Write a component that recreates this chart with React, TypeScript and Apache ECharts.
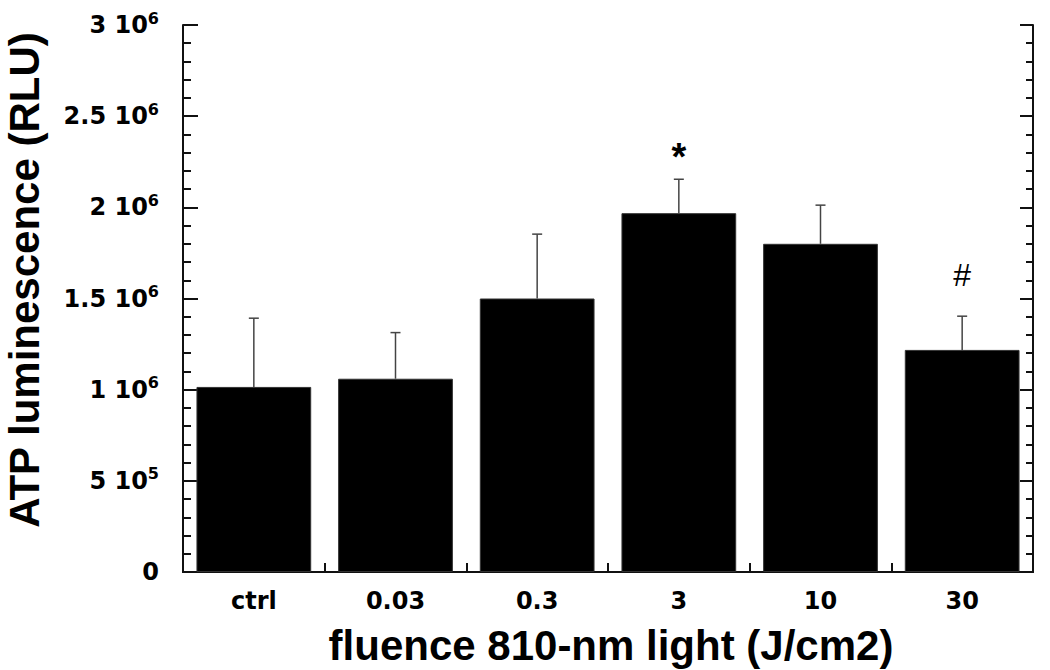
import React, { useEffect, useRef } from "react";
import * as echarts from "echarts";

const categories = ["ctrl", "0.03", "0.3", "3", "10", "30"];
const means = [1015000, 1060000, 1500000, 1968000, 1800000, 1218000];
const errors = [377000, 253000, 353000, 186000, 212000, 185000];
const annotationCats = [3, 5];
const annotationValues = [2276000, 1630000];
const annotationTexts = ["*", "#"];
const yTicks = { min: 0, max: 3000000, interval: 500000 };

const TICK_FONT = "DejaVu Sans";
const TITLE_FONT = "Liberation Sans";

function sciLabel(v: number): string {
  if (v === 0) return "{a|0}";
  const exp = Math.floor(Math.log10(v) + 1e-9);
  const mant = Math.round((v / Math.pow(10, exp)) * 100) / 100;
  return `{a|${mant} 10}{s|${exp}}`;
}

export default function App() {
  const ref = useRef<HTMLDivElement>(null);
  useEffect(() => {
    document.body.style.margin = "0";
    if (!ref.current) return;
    const chart = echarts.init(ref.current, undefined, { renderer: "svg" });
    const axisLineStyle = { color: "#111", width: 2 };
    chart.setOption({
      animation: false,
      backgroundColor: "#fff",
      grid: { left: 183, right: 17, top: 25, bottom: 98, containLabel: false },
      xAxis: [
        {
          type: "category",
          data: categories,
          position: "bottom",
          boundaryGap: true,
          axisLine: { show: true, lineStyle: axisLineStyle },
          axisTick: { show: true, inside: true, length: 9, lineStyle: { color: "#111", width: 2 } },
          axisLabel: {
            margin: 17,
            fontFamily: TICK_FONT,
            fontWeight: "bold",
            fontSize: 24,
            color: "#000",
          },
          splitLine: { show: false },
        },
        {
          type: "category",
          data: categories,
          position: "top",
          axisLine: { show: true, lineStyle: axisLineStyle },
          axisTick: { show: false },
          axisLabel: { show: false },
          splitLine: { show: false },
        },
      ],
      yAxis: [
        {
          type: "value",
          position: "left",
          min: yTicks.min,
          max: yTicks.max,
          interval: yTicks.interval,
          axisLine: { show: true, lineStyle: axisLineStyle },
          axisTick: { show: true, inside: true, length: 15, lineStyle: { color: "#111", width: 2 } },
          minorTick: { show: true, splitNumber: 5, length: 8, lineStyle: { color: "#111", width: 2 } },
          splitLine: { show: false },
          minorSplitLine: { show: false },
          axisLabel: {
            margin: 24,
            formatter: (v: number) => sciLabel(v),
            rich: {
              a: { fontFamily: TICK_FONT, fontWeight: "bold", fontSize: 24, color: "#000", lineHeight: 30 },
              s: { fontFamily: TICK_FONT, fontWeight: "bold", fontSize: 16, color: "#000", verticalAlign: "top", lineHeight: 30 },
            },
          },
        },
        {
          type: "value",
          position: "right",
          min: yTicks.min,
          max: yTicks.max,
          interval: yTicks.interval,
          axisLine: { show: true, lineStyle: axisLineStyle },
          axisTick: { show: true, inside: true, length: 13, lineStyle: { color: "#111", width: 2 } },
          minorTick: { show: true, splitNumber: 5, length: 7, lineStyle: { color: "#111", width: 2 } },
          splitLine: { show: false },
          axisLabel: { show: false },
        },
      ],
      series: [
        {
          type: "bar",
          data: means,
          barWidth: "81%",
          itemStyle: { color: "#000", borderColor: "#333", borderWidth: 1 },
          z: 2,
        },
        {
          type: "custom",
          data: categories.map((_, i) => [i, means[i], errors[i]]),
          encode: { x: 0, y: 1 },
          z: 3,
          renderItem: (params: any, api: any) => {
            const i = api.value(0);
            const m = api.value(1);
            const e = api.value(2);
            const base = api.coord([i, m]);
            const top = api.coord([i, m + e]);
            const st = { stroke: "#444", lineWidth: 1.5 };
            return {
              type: "group",
              children: [
                { type: "line", shape: { x1: base[0], y1: base[1], x2: top[0], y2: top[1] }, style: st },
                { type: "line", shape: { x1: top[0] - 5, y1: top[1], x2: top[0] + 5, y2: top[1] }, style: st },
              ],
            };
          },
        },
        {
          type: "custom",
          data: annotationCats.map((c, i) => [c, annotationValues[i]]),
          encode: { x: 0, y: 1 },
          z: 4,
          renderItem: (params: any, api: any) => {
            const p = api.coord([api.value(0), api.value(1)]);
            const t = annotationTexts[params.dataIndex];
            const bold = t === "*";
            return {
              type: "text",
              x: p[0],
              y: p[1],
              style: {
                text: t,
                fill: "#000",
                font: `${bold ? "bold" : "normal"} ${bold ? 38 : 32}px ${TITLE_FONT}`,
                align: "center",
                verticalAlign: "middle",
              },
            };
          },
        },
      ],
      graphic: [
        {
          type: "text",
          x: 24,
          y: 280,
          rotation: Math.PI / 2,
          style: {
            text: "ATP luminescence (RLU)",
            fill: "#000",
            font: `bold 42px ${TITLE_FONT}`,
            align: "center",
            verticalAlign: "middle",
          },
        },
        {
          type: "text",
          x: 611,
          y: 645,
          style: {
            text: "fluence 810-nm light (J/cm2)",
            fill: "#000",
            font: `bold 42px ${TITLE_FONT}`,
            align: "center",
            verticalAlign: "middle",
          },
        },
      ],
    });
    return () => chart.dispose();
  }, []);
  return <div ref={ref} style={{ width: 1050, height: 670 }} />;
}
